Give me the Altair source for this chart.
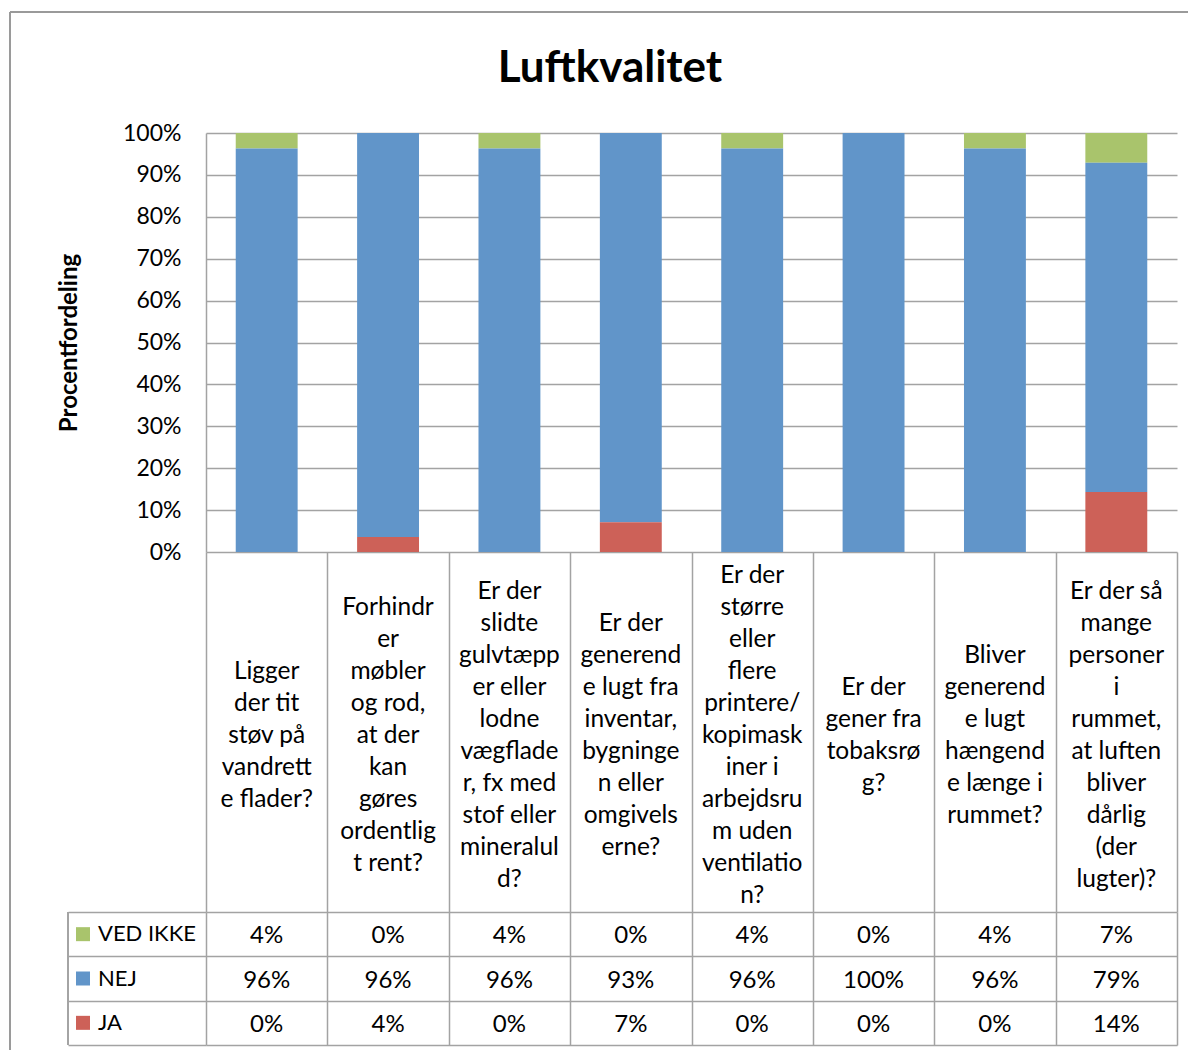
import altair as alt
import pandas as pd

categories = [
    "Ligger\nder tit\nstøv på\nvandrett\ne flader?",
    "Forhindr\ner\nmøbler\nog rod,\nat der\nkan\ngøres\nordentlig\nt rent?",
    "Er der\nslidte\ngulvtæpp\ner eller\nlodne\nvægflade\nr, fx med\nstof eller\nmineralul\nd?",
    "Er der\ngenerend\ne lugt fra\ninventar,\nbygninge\nn eller\nomgivels\nerne?",
    "Er der\nstørre\neller\nflere\nprintere/\nkopimask\niner i\narbejdsru\nm uden\nventilatio\nn?",
    "Er der\ngener fra\ntobaksrø\ng?",
    "Bliver\ngenerend\ne lugt\nhængend\ne længe i\nrummet?",
    "Er der så\nmange\npersoner\ni\nrummet,\nat luften\nbliver\ndårlig\n(der\nlugter)?",
]
series = ["VED IKKE", "NEJ", "JA"]
ved_ikke = [3.7, 0, 3.7, 0, 3.7, 0, 3.7, 7.1]
nej = [96.3, 96.4, 96.3, 92.9, 96.3, 100, 96.3, 78.6]
ja = [0, 3.6, 0, 7.1, 0, 0, 0, 14.3]
colors = ["#a9c46c", "#6195c9", "#cd6158"]
title_text = ["Luftkvalitet"]

rows = []
for s, vals, order in [("VED IKKE", ved_ikke, 3), ("NEJ", nej, 2), ("JA", ja, 1)]:
    for c, v in zip(categories, vals):
        rows.append({"cat": c, "series": s, "value": v, "order": order})
df = pd.DataFrame(rows)
cat_df = pd.DataFrame({"cat": categories})
leg_df = pd.DataFrame({"series": series})
title_df = pd.DataFrame({"t": title_text})

FONT = "Lato"
GRID = "#a3a3a3"
FRAME = "#9a9a9a"
W = 971
LABEL_H = 360
LINE_H = 32

color_scale = alt.Scale(domain=series, range=colors)

bars = alt.Chart(df).transform_calculate(
    frac="datum.value / 100"
).mark_bar().encode(
    x=alt.X("cat:N", sort=categories,
            scale=alt.Scale(paddingInner=0.49, paddingOuter=0.245), axis=None),
    y=alt.Y("frac:Q", stack="zero",
            scale=alt.Scale(domain=[0, 1], nice=False),
            axis=alt.Axis(format=".0%", values=[i / 10 for i in range(11)],
                          title="Procentfordeling", titleFont=FONT, titleFontSize=24,
                          titleFontWeight="bold", titleColor="black", titlePadding=41,
                          labelFont=FONT, labelFontSize=23, labelColor="black", labelPadding=25,
                          ticks=False, grid=True, gridColor=GRID, gridWidth=1.5,
                          domainColor=GRID, domainWidth=1.5)),
    color=alt.Color("series:N", scale=color_scale, legend=None),
    order=alt.Order("order:Q", sort="ascending"),
)

title_mark = alt.Chart(title_df).mark_text(
    font=FONT, fontSize=44, fontWeight="bold", color="black", align="center", baseline="middle"
).encode(x=alt.value(404), y=alt.value(-64), text="t:N")

frame_v = alt.Chart(title_df).mark_rule(color=FRAME, strokeWidth=2).encode(
    x=alt.value(-196), y=alt.value(-121), y2=alt.value(920)
)
frame_h = alt.Chart(title_df).mark_rule(color=FRAME, strokeWidth=2).encode(
    x=alt.value(-196), x2=alt.value(982), y=alt.value(-121)
)

top = alt.layer(bars, title_mark, frame_v, frame_h).properties(width=W, height=419)

band_axis = alt.Axis(labels=False, ticks=False, domain=False, title=None, grid=True,
                     tickBand="extent", gridColor=GRID, gridWidth=1.5)

labels = alt.Chart(cat_df).transform_calculate(
    ypix=f"{LABEL_H / 2 + 4} - (length(split(datum.cat, '\\n')) - 1) * {LINE_H / 2}"
).mark_text(
    font=FONT, fontSize=24.5, lineBreak="\n", lineHeight=LINE_H,
    align="center", baseline="middle", color="black"
).encode(
    x=alt.X("cat:N", sort=categories, scale=alt.Scale(paddingInner=0, paddingOuter=0), axis=band_axis),
    y=alt.Y("ypix:Q", scale=None, axis=None),
    text="cat:N",
).properties(width=W, height=LABEL_H)

table_x = alt.X("cat:N", sort=categories, scale=alt.Scale(paddingInner=0, paddingOuter=0), axis=band_axis)
table_y_axis = alt.Axis(labels=False, ticks=True, tickSize=138, tickBand="extent", tickColor=GRID,
                        tickWidth=1.5, domain=False, title=None, grid=True, gridColor=GRID, gridWidth=1.5)
table_y = alt.Y("series:N", sort=series, scale=alt.Scale(paddingInner=0, paddingOuter=0), axis=table_y_axis)

table_text = alt.Chart(df).transform_calculate(
    label="format(datum.value, '.0f') + '%'"
).mark_text(font=FONT, fontSize=24, color="black", baseline="middle", dy=2).encode(
    x=table_x, y=table_y, text="label:N"
)

leg_sq = alt.Chart(leg_df).mark_point(shape="square", filled=True, size=196, opacity=1).encode(
    x=alt.value(-123), y=alt.Y("series:N", sort=series),
    color=alt.Color("series:N", scale=color_scale, legend=None),
)
leg_txt = alt.Chart(leg_df).mark_text(font=FONT, fontSize=22, align="left", baseline="middle", color="black").encode(
    x=alt.value(-108), y=alt.Y("series:N", sort=series), text="series:N"
)
left_rule = alt.Chart(leg_df).mark_rule(color=GRID, strokeWidth=1.5).encode(
    x=alt.value(-138), y=alt.value(0), y2=alt.value(133)
)

table = alt.layer(table_text, leg_sq, leg_txt, left_rule).properties(width=W, height=133)

chart = alt.vconcat(top, labels, table, spacing=0, bounds="flush").properties(
    padding={"left": 1, "top": 3, "right": 0, "bottom": 0},
).configure_view(strokeWidth=0).configure_concat(spacing=0)

chart.save("out.html", embed_options={"renderer": "svg", "actions": False})
